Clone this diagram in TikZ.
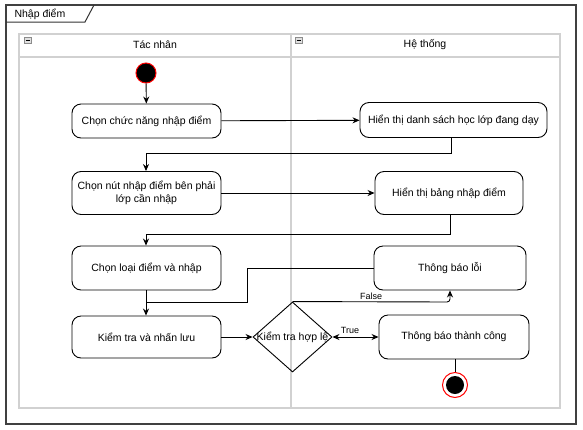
\documentclass[tikz,border=0pt]{standalone}
\usepackage{fontspec}
\setmainfont{Liberation Sans}
\usetikzlibrary{shapes.geometric,arrows.meta}
\begin{document}
\begin{tikzpicture}[x=1pt,y=-1pt,
  act/.style={draw,rounded corners=9pt,line width=0.9pt,font=\fontsize{10.5}{12.5}\selectfont,align=center,inner sep=0pt},
  flow/.style={draw,line width=0.9pt,-{Stealth[length=7pt,width=6pt]}},
  lane/.style={draw=black!18,line width=1.3pt},
  lbl/.style={font=\fontsize{9}{10}\selectfont,inner sep=0pt}]
\useasboundingbox (0,0) rectangle (583,429);
% frame
\draw[line width=1.6pt,draw=black!75] (6,5) rectangle (576,424);
\draw[line width=1pt,draw=black!80] (6,22) -- (85,22) -- (94,5);
\node[font=\fontsize{10.5}{12}\selectfont,anchor=west] (title) at (11,14) {Nhập điểm};
% swimlanes
\draw[lane] (19,34) rectangle (560,408);
\draw[lane] (19,57) -- (560,57);
\draw[lane] (291,34) -- (291,408);
\node[font=\fontsize{10.5}{12}\selectfont] (h1) at (155,45) {Tác nhân};
\node[font=\fontsize{10.5}{12}\selectfont] (h2) at (425,45) {Hệ thống};
\foreach \xx in {24,295}{
  \draw[draw=black!45,fill=black!12,line width=0.5pt] (\xx,37) rectangle (\xx+7,43);
  \draw[line width=0.7pt] (\xx+1.5,40) -- (\xx+5.5,40);
}
% nodes
\node[circle,fill=black,draw=red,line width=1pt,minimum size=20pt,inner sep=0pt] (start) at (146,73) {};
\node[act,minimum width=149pt,minimum height=34pt] (n1) at (146.5,121) {Chọn chức năng nhập điểm};
\node[act,minimum width=187pt,minimum height=35pt] (n2) at (453.5,120) {Hiển thị danh sách học lớp đang dạy};
\node[act,minimum width=149pt,minimum height=43pt] (n3) at (146.5,193) {Chọn nút nhập điểm bên phải\\lớp cần nhập};
\node[act,minimum width=148pt,minimum height=43pt] (n4) at (449,193) {Hiển thị bảng nhập điểm};
\node[act,minimum width=149pt,minimum height=44pt] (n5) at (146.5,268) {Chọn loại điểm và nhập};
\node[act,minimum width=152pt,minimum height=44pt] (n6) at (450,268) {Thông báo lỗi};
\node[act,minimum width=149pt,minimum height=42pt] (n7) at (146.5,337) {Kiểm tra và nhấn lưu};
\node[draw,diamond,line width=0.9pt,minimum width=79pt,minimum height=70pt,inner sep=0pt,font=\fontsize{10.5}{12.5}\selectfont] (d) at (292.5,337) {};
\node[font=\fontsize{10.5}{12.5}\selectfont] (dl) at (292.5,337) {Kiểm tra hợp lệ};
\node[act,minimum width=150pt,minimum height=44pt] (n8) at (454,337) {Thông báo thành công};
\node[circle,draw=red,line width=1pt,fill=white,minimum size=25pt,inner sep=0pt] (endo) at (455,385) {};
\node[circle,fill=black,minimum size=18pt,inner sep=0pt] (endi) at (endo) {};
% connectors
\draw[flow] (start) -- (n1);
\draw[flow] (n1) -- (n2);
\draw[flow] (n2.south -| 451,0) -- (451,153) -- (146,153) -- (n3.north -| 146,0);
\draw[flow] (n3) -- (n4);
\draw[flow] (n4.south -| 450,0) -- (450,234) -- (146,234) -- (n5.north -| 146,0);
\draw[flow] (n5.south -| 146,0) -- (n7.north -| 146,0);
\draw[line width=0.9pt] (n6.west) -- (247,268) -- (247,302) -- (146,302);
\draw[flow] (n7) -- (d);
\draw[flow,rounded corners=3pt] (d.north) -- (450,302) -- (n6.south -| 450,0);
\node[lbl] (fl) at (371,296) {False};
\draw[line width=0.9pt,{Stealth[length=7pt,width=6pt]}-{Stealth[length=7pt,width=6pt]}] (d.east) -- (n8.west);
\node[lbl] (tl) at (350,330) {True};
\draw[line width=0.9pt] (n8.south -| 455,0) -- (endo.north);
\end{tikzpicture}
\end{document}
